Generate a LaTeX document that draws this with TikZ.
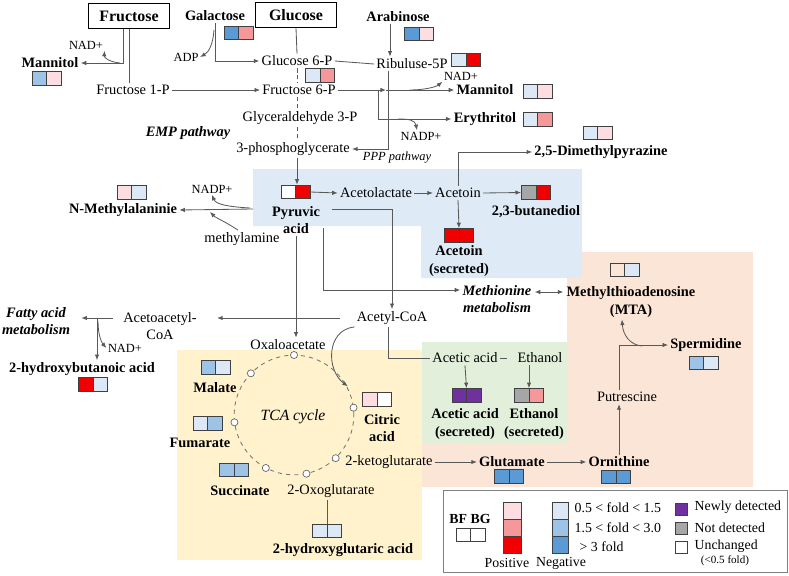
\documentclass[tikz,border=0pt]{standalone}
\usepackage{fontspec}
\setmainfont{Liberation Serif}
\usetikzlibrary{arrows.meta,calc}
\definecolor{negA}{HTML}{DCE8F5}
\definecolor{negB}{HTML}{9DC3E6}
\definecolor{negC}{HTML}{5B9BD5}
\definecolor{posA}{HTML}{FBDDE2}
\definecolor{posB}{HTML}{F4989A}
\definecolor{posC}{HTML}{F00000}
\definecolor{purp}{HTML}{7030A0}
\definecolor{nogray}{HTML}{A6A6A6}
\definecolor{bgblue}{HTML}{DEEBF7}
\definecolor{bgyellow}{HTML}{FFF2CC}
\definecolor{bgpeach}{HTML}{FBE5D6}
\definecolor{bggreen}{HTML}{E2EFDA}
\tikzset{
  flow/.style={draw=black!65, line width=0.6pt},
  arr/.style={flow, -{Latex[length=4pt,width=3.2pt]}},
  arrboth/.style={flow, {Latex[length=4pt,width=3.2pt]}-{Latex[length=4pt,width=3.2pt]}},
  phase/.style={flow, densely dashed},
  met/.style={font=\fontsize{10.4}{12.5}\selectfont, inner sep=1.5pt, align=center},
  metb/.style={font=\bfseries\fontsize{10.4}{12.5}\selectfont, inner sep=1.5pt, align=center},
  cofac/.style={font=\fontsize{9}{10}\selectfont, inner sep=1pt},
  route/.style={font=\bfseries\itshape\fontsize{10.4}{12.5}\selectfont, inner sep=1.5pt, align=center},
  sugar/.style={draw=black, line width=0.8pt, font=\bfseries\fontsize{11.5}{13}\selectfont, minimum width=2.08cm, minimum height=0.635cm},
  legt/.style={font=\fontsize{10}{12}\selectfont, inner sep=1pt},
  cellline/.style={draw=black!75, line width=0.6pt},
  sitering/.style={draw=black!60, fill=white, line width=0.5pt},
  fold/.style 2 args={draw=black!75, line width=0.6pt, inner sep=0pt, minimum width=0.74cm, minimum height=0.35cm,
    path picture={
      \path[fill=#1] (path picture bounding box.south west) rectangle (path picture bounding box.north);
      \path[fill=#2] (path picture bounding box.south) rectangle (path picture bounding box.north east);
      \draw[black!75, line width=0.6pt] (path picture bounding box.south) -- (path picture bounding box.north);
    }},
}
\begin{document}
\begin{tikzpicture}[x=0.0254cm, y=-0.0254cm]
\useasboundingbox (0,0) rectangle (789,575);
% regions
\fill[bgpeach] (567,252) rectangle (753,487);
\fill[bgpeach] (422,342) rectangle (567,487);
\fill[bgblue] (253,169) -- (582,169) -- (582,278) -- (421,278) -- (421,226) -- (253,226) -- cycle;
\fill[bggreen] (422,342) rectangle (567,443);
\fill[bgyellow] (177,350) rectangle (422,560);

% sugars and upper pathway
\node[sugar] (fru) at (129,16) {Fructose};
\node[sugar] (glc) at (296,15) {Glucose};
\node[metb] (gal) at (215,16) {Galactose};
\node[fold={negC}{posB}] (galbox) at (238.5,33) {};
\node[metb] (ara) at (398,17) {Arabinose};
\node[fold={negC}{posA}] (arabox) at (419,34) {};
\node[cofac] (adp) at (186,57) {ADP};
\node[met] (glc6p) at (297,61) {Glucose 6-P};
\node[met] (rib5p) at (412,64) {Ribuluse-5P};
\node[fold={negA}{posC}] (ribbox) at (466,60) {};
\node[cofac] (nad1) at (86,45) {NAD+};
\node[metb] (man1) at (50,63) {Mannitol};
\node[fold={negB}{posA}] (man1box) at (46.5,78.5) {};
\node[met] (f1p) at (133,90) {Fructose 1-P};
\node[met] (f6p) at (299,90) {Fructose 6-P};
\node[fold={negA}{posB}] (f6pbox) at (320,75.5) {};
\node[met] (gap) at (300,118) {Glyceraldehyde 3-P};
\node[met] (pga) at (293,149) {3-phosphoglycerate};
\node[route] (emp) at (188,133) {EMP pathway};
\node[cofac] (nad2) at (461,76) {NAD+};
\node[metb] (man2) at (485,90) {Mannitol};
\node[fold={negA}{posA}] (man2box) at (537.5,91.5) {};
\node[cofac] (nadp1) at (421,136) {NADP+};
\node[metb] (ery) at (485,119) {Erythritol};
\node[fold={negA}{posB}] (erybox) at (537.5,119.5) {};
\node[font=\itshape\fontsize{9}{10}\selectfont] (ppp) at (397,158) {PPP pathway};

% pyruvate node
\node[fold={white}{posC}] (pyrbox) at (295.5,192) {};
\node[metb] (pyr) at (296,220) {Pyruvic\\acid};
\node[met] (acl) at (376,193) {Acetolactate};
\node[met] (acn) at (458,193) {Acetoin};
\node[fold={nogray}{posC}] (btdbox) at (536,192.5) {};
\node[metb] (btd) at (536,212) {2,3-butanediol};
\node[fold={posC}{posC}] (acnbox) at (459,235.5) {};
\node[metb] (acns) at (459,261) {Acetoin\\(secreted)};
\node[metb] (dmp) at (601,152) {2,5-Dimethylpyrazine};
\node[fold={negA}{posA}] (dmpbox) at (597.5,133) {};
\node[metb] (nma) at (123,210) {N-Methylalaninie};
\node[fold={posA}{negA}] (nmabox) at (131.5,192.5) {};
\node[cofac] (nadp2) at (212,189) {NADP+};
\node[met] (mea) at (242,239) {methylamine};
\node[route] (met) at (497,299) {Methionine\\metabolism};
\node[metb] (mta) at (631,302) {Methylthioadenosine\\(MTA)};
\node[fold={none}{negA}] (mtabox) at (624.5,270) {};
\node[met] (accoa) at (392,318) {Acetyl-CoA};
\node[met] (aacoa) at (160,326) {Acetoacetyl-\\CoA};
\node[route] (fam) at (36,321) {Fatty acid\\metabolism};
\node[metb] (hba) at (82,369) {2-hydroxybutanoic acid};
\node[fold={posC}{negA}] (hbabox) at (93,384.5) {};
\node[cofac] (nad3) at (125,348) {NAD+};

% TCA cycle
\node[met] (oaa) at (288,345) {Oxaloacetate};
\coordinate (tca) at (294,415);
\draw[flow, dashed, draw=black!55] (tca) circle[radius=1.52cm];
\node[font=\itshape\fontsize{11.3}{13}\selectfont] (tcal) at (293,417) {TCA cycle};
\foreach \a in {90,136,187,242,282,314,7}
  \draw[sitering] ($(tca)+(-\a:60)$) circle[radius=0.09cm];
\coordinate (tin) at ($(tca)+(-28:61)$);
\node[metb] (mal) at (215,388) {Malate};
\node[fold={negB}{negA}] (malbox) at (215.5,367.5) {};
\node[metb] (fum) at (200,443) {Fumarate};
\node[fold={negA}{negB}] (fumbox) at (207.5,423.5) {};
\node[metb] (suc) at (240,491) {Succinate};
\node[fold={negB}{negB}] (sucbox) at (234,470) {};
\node[met] (oxg) at (331,491) {2-Oxoglutarate};
\node[metb] (hga) at (343,550) {2-hydroxyglutaric acid};
\node[fold={negA}{negA}] (hgabox) at (327,531) {};
\node[metb] (cit) at (382,428) {Citric\\acid};
\node[fold={posA}{white}] (citbox) at (377,399.5) {};
\node[met] (akg) at (389,462) {2-ketoglutarate};

% amino acids and polyamines
\node[metb] (glu) at (512,462) {Glutamate};
\node[fold={negC}{negC}] (glubox) at (509,476.5) {};
\node[metb] (orn) at (619,462) {Ornithine};
\node[fold={negC}{negC}] (ornbox) at (616,477) {};
\node[met] (put) at (627,397) {Putrescine};
\node[metb] (spd) at (706,345) {Spermidine};
\node[fold={negB}{negA}] (spdbox) at (703.5,363) {};

% fermentation
\node[met] (aca) at (465,358) {Acetic acid};
\node[met] (eth) at (540,358) {Ethanol};
\node[fold={purp}{purp}] (acabox) at (466.5,395.5) {};
\node[metb] (acas) at (465,424) {Acetic acid\\(secreted)};
\node[fold={nogray}{posB}] (ethbox) at (529,395.5) {};
\node[metb] (eths) at (534,424) {Ethanol\\(secreted)};

% connectors: sugars
\draw[arr] ($(fru.south)+(-6,0)$) |- (man1.east);
\coordinate (j1) at (120,63);
\draw[arr] (j1) .. controls (110,62) and (104,58) .. (nad1.south east);
\draw[flow] (fru.south) -- (fru.south |- f1p.north);
\draw[arr] (f1p.east) -- (f6p.west);
\draw[arr] (gal.south) |- (glc6p.west);
\coordinate (j2) at (214,30);
\draw[arr] (j2) .. controls (213,44) and (209,52) .. (adp.east);
\draw[flow] (glc.south) -- (glc6p.north);
\draw[flow] (glc6p.east) -- (rib5p.west);
\draw[arr] ($(ara.south)+(-8,0)$) -- ($(rib5p.north)+(-22,0)$);
\draw[phase] (glc6p.south) -- (glc6p.south |- f6p.north);
\draw[phase] (glc6p.south |- f6p.south) -- (glc6p.south |- gap.north);
\draw[phase] (glc6p.south |- gap.south) -- (glc6p.south |- pga.north);
\draw[arr] (glc6p.south |- pga.south) -- (glc6p.south |- pyrbox.north);
\coordinate (j3) at (386,90);
\draw[arr] (f6p.east) -- (j3);
\draw[arr] (j3) -- (man2.west);
\coordinate (j4) at (410,90);
\draw[arr] (j4) .. controls (424,90) and (436,87) .. (nad2.south west);
\coordinate (j5) at (378,90);
\draw[arr] (j5) |- (ery.west);
\coordinate (j6) at (398,119);
\draw[arr] (j6) .. controls (409,119) and (415,120) .. ($(nadp1.north)+(-4,0)$);
\draw[arr] ($(rib5p.south)+(-24,0)$) |- (pga.east);

% connectors: pyruvate
\draw[arr] (pyrbox.east) -- (acl.west);
\draw[arr] (acl.east) -- (acn.west);
\draw[arr] (acn.east) -- (btdbox.west);
\draw[arr] (acn.south) -- (acnbox.north);
\draw[arr] (acn.north) |- (dmp.west);
\coordinate (bl) at (253,209);
\draw[arr] (bl) -- (nma.east);
\coordinate (j7) at (250,208);
\draw[arr] (j7) .. controls (232,207) and (216,205) .. (nadp2.south);
\coordinate (j8) at (210,212);
\draw[arr] ($(mea.north)+(-4,0)$) .. controls (226,222) and (216,218) .. (j8);
\draw[arr] (pyr.south) -- (pyr.south |- oaa.north);
\draw[arr] ($(pyr.east)+(1,8)$) |- ($(met.west)+(0,-9)$);
\draw[arr] ($(pyr.east)+(10,-11)$) -| (accoa.north);
\draw[arrboth] ($(met.east)+(1,-7)$) -- ($(mta.west)+(-1,-10)$);

% connectors: acetyl-CoA
\draw[arr] ($(accoa.west)+(-14,0)$) -- ($(aacoa.east)+(18,-8)$);
\draw[arr] ($(aacoa.west)+(-8,-8)$) -- ($(fam.east)+(9,-3)$);
\coordinate (j9) at (97,318);
\draw[arr] (j9) -- (j9 |- hba.north);
\coordinate (j10) at (98,321);
\draw[arr] (j10) .. controls (98,336) and (102,343) .. (nad3.west);
\draw[arr] (accoa.south west) .. controls (326,330) and (326,370) .. (tin);
\draw[flow] ($(accoa.south)+(-4,0)$) |- (aca.west);
\coordinate (j12) at (507,358);
\draw[flow] (aca.east) -- (j12);
\draw[arr] (aca.south) -- (acabox.north);
\draw[arr] (ethbox.north |- eth.south) -- (ethbox.north);

% connectors: TCA and amino acids
\draw[flow] (hgabox.north |- oxg.south) -- (hgabox.north);
\draw[arr] (akg.east) -- (glu.west);
\draw[arr] (glu.east) -- (orn.west);
\draw[arr] (orn.north) -- (orn.north |- put.south);
\draw[arr] (orn.north |- put.north) |- (spd.west);
\coordinate (j11) at (642,346);
\draw[arr] (j11) .. controls (630,345) and (623,335) .. ($(mta.south)+(-9,0)$);

% legend
\draw[black!50, fill=white, line width=0.6pt] (443,490) rectangle (787,572);
\node[font=\bfseries\fontsize{10}{12}\selectfont] (lbf) at (470,519) {BF BG};
\node[fold={white}{white}] (lbox) at (470.5,535) {};
\draw[cellline, fill=posA] (503,502) rectangle (521,519);
\draw[cellline, fill=posB] (503,519) rectangle (521,536);
\draw[cellline, fill=posC] (503,536) rectangle (521,553);
\draw[cellline, fill=negA] (552,502) rectangle (568,519);
\draw[cellline, fill=negB] (552,519) rectangle (568,536);
\draw[cellline, fill=negC] (552,536) rectangle (568,553);
\node[legt] (lpos) at (507,563) {Positive};
\node[legt] (lneg) at (561,563) {Negative};
\node[legt, anchor=west] (l1) at (573,508) {0.5 < fold < 1.5};
\node[legt, anchor=west] (l2) at (573,528) {1.5 < fold < 3.0};
\node[legt, anchor=west] (l3) at (578,547) {> 3 fold};
\draw[cellline, fill=purp] (675,503) rectangle (687,515);
\draw[cellline, fill=nogray] (675,522) rectangle (687,534);
\draw[cellline, fill=white] (675,541) rectangle (687,553);
\node[legt, anchor=west] (l4) at (693,507) {Newly detected};
\node[legt, anchor=west] (l5) at (693,528) {Not detected};
\node[legt, anchor=west] (l6) at (693,546) {Unchanged};
\node[font=\fontsize{8}{9}\selectfont] (l7) at (725,561) {(<0.5 fold)};
\end{tikzpicture}
\end{document}
